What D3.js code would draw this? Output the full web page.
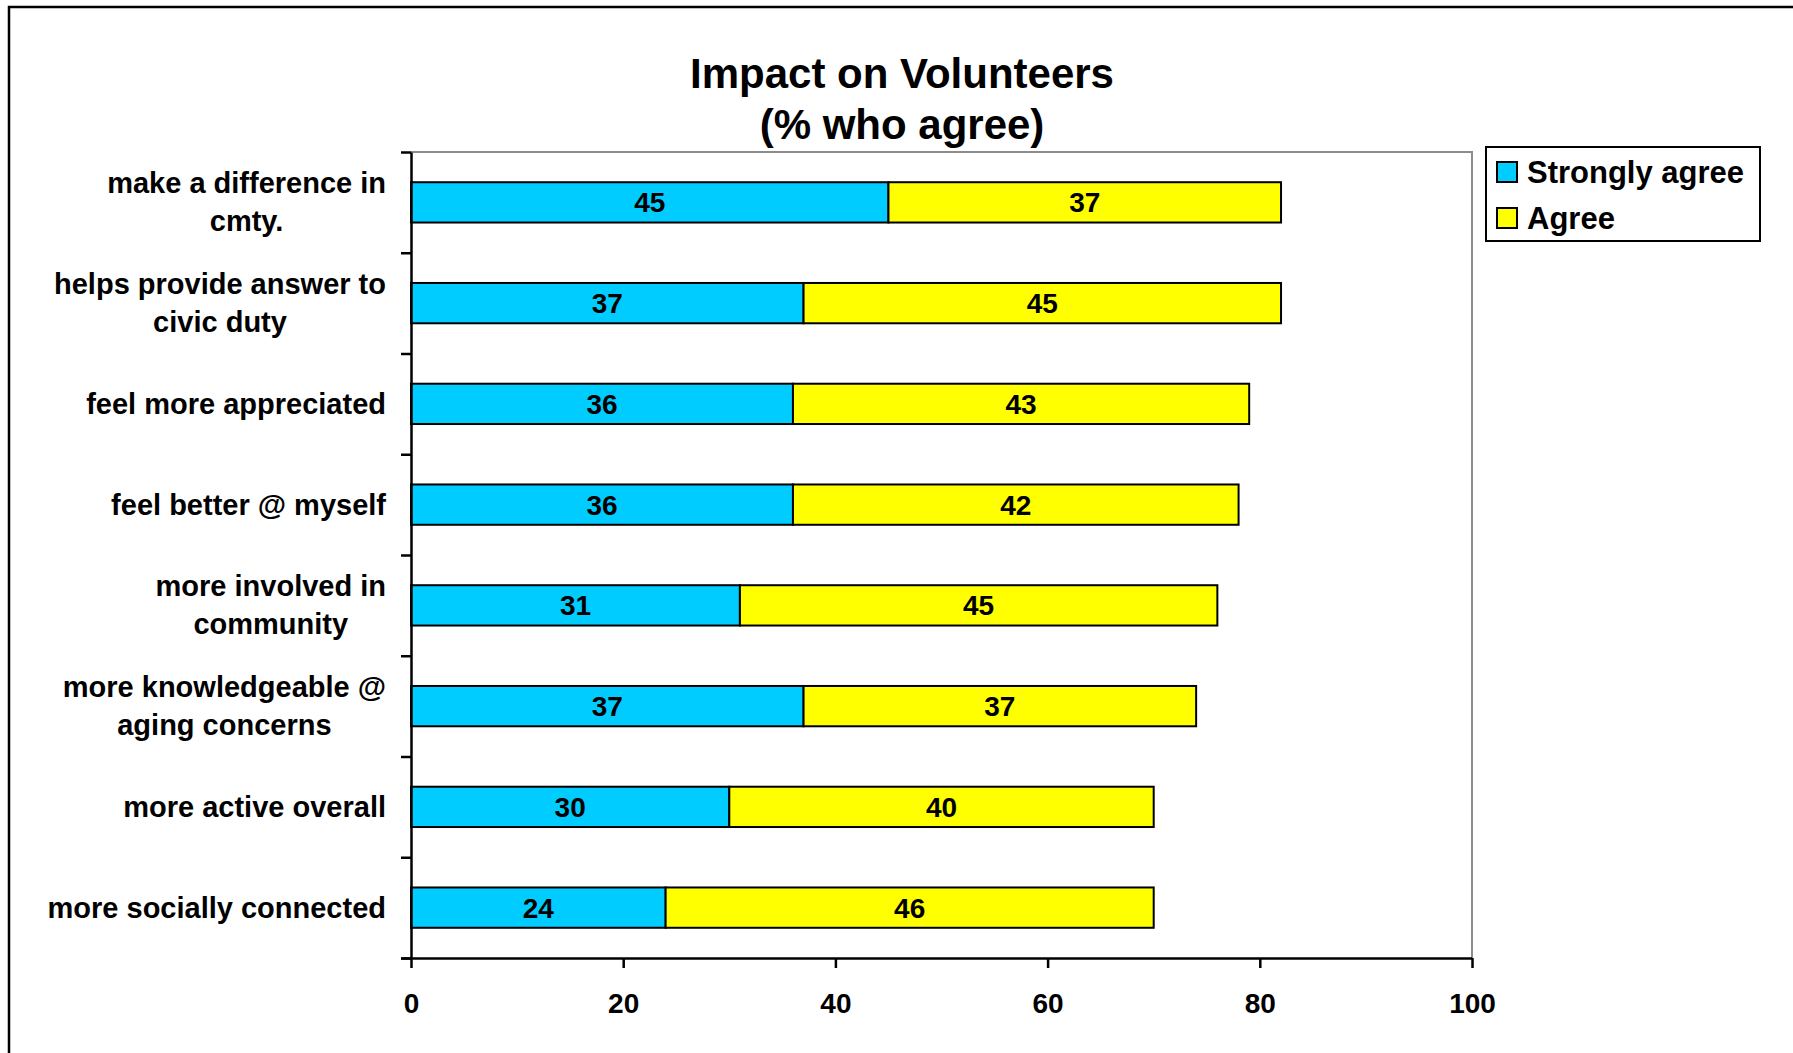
<!DOCTYPE html>
<html>
<head>
<meta charset="utf-8">
<script src="https://cdn.jsdelivr.net/npm/d3@7"></script>
<style>
  html, body { margin: 0; padding: 0; background: #fff; }
  svg { display: block; font-family: "Liberation Sans", Arial, sans-serif; font-weight: bold; }
</style>
</head>
<body>
<svg id="chart" width="1793" height="1053"></svg>
<script>
// Survey results: share of volunteers who agree with each statement
const categories = [
  "make a difference in|cmty.",
  "helps provide answer to|civic duty",
  "feel more appreciated",
  "feel better @ myself",
  "more involved in|community",
  "more knowledgeable @|aging concerns",
  "more active overall",
  "more socially connected"
];
const stronglyAgree = [45, 37, 36, 36, 31, 37, 30, 24];
const agree = [37, 45, 43, 42, 45, 37, 40, 46];
const seriesNames = ["Strongly agree", "Agree"];
const seriesColors = ["#00CCFF", "#FFFF00"];
const xTicks = [0, 20, 40, 60, 80, 100];
const titleLines = ["Impact on Volunteers", "(% who agree)"];

const svg = d3.select("#chart");
const W = 1793, H = 1053;
const plot = { left: 411, right: 1472, top: 152, bottom: 958 };

// outer frame (top and left edges)
svg.append("path")
  .attr("d", `M9,${H} L9,7 L${W},7`)
  .attr("fill", "none").attr("stroke", "#000").attr("stroke-width", 2.5);

const x = d3.scaleLinear().domain([0, 100]).range([plot.left, plot.right]);
const y = d3.scaleBand().domain(categories)
  .range([plot.top, plot.bottom]).paddingInner(0.6).paddingOuter(0.3);
const yEdge = d3.scaleLinear().domain([0, categories.length]).range([plot.top, plot.bottom]);

// plot area border (top & right, grey)
svg.append("path")
  .attr("d", `M${plot.left},${plot.top} L${plot.right},${plot.top} L${plot.right},${plot.bottom}`)
  .attr("fill", "none").attr("stroke", "#8c8c8c").attr("stroke-width", 2);

// stacked bars
const rows = categories.map((c, i) => ({ cat: c, vals: [stronglyAgree[i], agree[i]] }));
const stack = svg.append("g");
rows.forEach(r => {
  let start = 0;
  r.vals.forEach((v, k) => {
    stack.append("rect")
      .attr("x", x(start)).attr("y", y(r.cat))
      .attr("width", x(start + v) - x(start)).attr("height", y.bandwidth())
      .attr("fill", seriesColors[k]).attr("stroke", "#000").attr("stroke-width", 2);
    stack.append("text")
      .attr("x", (x(start) + x(start + v)) / 2)
      .attr("y", y(r.cat) + y.bandwidth() / 2 + 10)
      .attr("text-anchor", "middle").attr("font-size", 28).attr("fill", "#000")
      .text(v);
    start += v;
  });
});

// y axis: ticks at category boundaries
const yAxis = svg.append("g").attr("transform", `translate(${plot.left},0)`)
  .call(d3.axisLeft(yEdge).tickValues(d3.range(categories.length + 1))
    .tickFormat("").tickSizeInner(10).tickSizeOuter(0));
yAxis.selectAll("path, line").attr("stroke", "#000").attr("stroke-width", 2.5);

// x axis
const xAxis = svg.append("g").attr("transform", `translate(0,${plot.bottom})`)
  .call(d3.axisBottom(x).tickValues(xTicks).tickSizeInner(10).tickSizeOuter(0).tickPadding(25));
xAxis.selectAll("path, line").attr("stroke", "#000").attr("stroke-width", 2.5);
xAxis.select("path.domain").attr("d", `M${plot.left - 10},0.5H${plot.right}`);
xAxis.selectAll("text").attr("font-size", 28).attr("font-family", null)
  .attr("font-weight", "bold").attr("fill", "#000");

// category labels: right-aligned blocks, lines centred within block
const labelRight = 386, lineGap = 38;
categories.forEach(c => {
  const lines = c.split("|");
  const t = svg.append("text").attr("font-size", 29).attr("fill", "#000").attr("text-anchor", "middle");
  const cy = y(c) + y.bandwidth() / 2 + 10 - (lines.length - 1) * lineGap / 2;
  lines.forEach((ln, j) => t.append("tspan").attr("y", cy + j * lineGap).text(ln));
  let maxW = 0;
  t.selectAll("tspan").each(function () { maxW = Math.max(maxW, this.getComputedTextLength()); });
  t.selectAll("tspan").attr("x", labelRight - maxW / 2);
});

// title
svg.append("text").attr("x", 902).attr("y", 88).attr("text-anchor", "middle")
  .attr("font-size", 42).attr("fill", "#000").text(titleLines[0]);
svg.append("text").attr("x", 902).attr("y", 139).attr("text-anchor", "middle")
  .attr("font-size", 42).attr("fill", "#000").text(titleLines[1]);

// legend
const lg = svg.append("g");
lg.append("rect").attr("x", 1486).attr("y", 147).attr("width", 274).attr("height", 94)
  .attr("fill", "#fff").attr("stroke", "#000").attr("stroke-width", 2);
seriesNames.forEach((n, i) => {
  const yy = 162 + i * 46;
  lg.append("rect").attr("x", 1497).attr("y", yy).attr("width", 20).attr("height", 20)
    .attr("fill", seriesColors[i]).attr("stroke", "#000").attr("stroke-width", 2);
  lg.append("text").attr("x", 1527).attr("y", yy + 21).attr("font-size", 31).attr("fill", "#000").text(n);
});
</script>
</body>
</html>
